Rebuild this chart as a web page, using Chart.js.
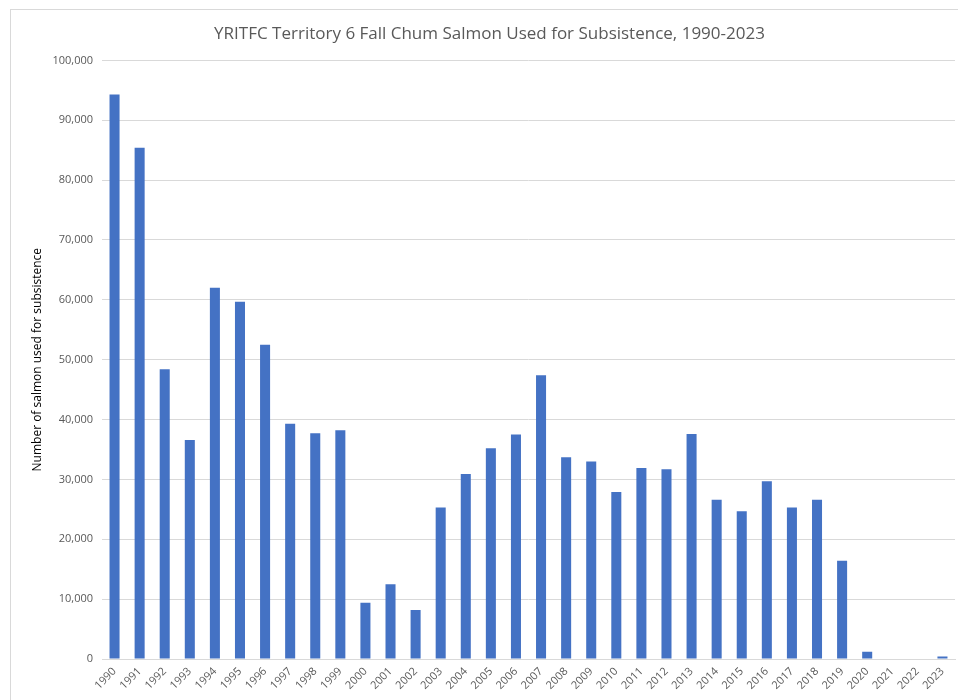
<!DOCTYPE html>
<html>
<head>
<meta charset="utf-8">
<script src="https://cdn.jsdelivr.net/npm/chart.js@4.4.1/dist/chart.umd.min.js"></script>
<style>
    html, body { margin: 0; padding: 0; background: #ffffff; }
    #wrap { position: relative; width: 958px; height: 700px; overflow: hidden; }
    #frame {
        position: absolute; left: 10px; top: 9px; width: 960px; height: 720px;
        border: 1px solid #d9d9d9; box-sizing: border-box;
    }
    #salmonChart { position: absolute; left: 0; top: 0; }
</style>
</head>
<body>
<div id="wrap">
    <div id="frame"></div>
    <canvas id="salmonChart" width="958" height="700"></canvas>
</div>
<script>
// Fall chum salmon used for subsistence, Territory 6
const years = [
    '1990', '1991', '1992', '1993', '1994', '1995', '1996', '1997', '1998', '1999',
    '2000', '2001', '2002', '2003', '2004', '2005', '2006', '2007', '2008', '2009',
    '2010', '2011', '2012', '2013', '2014', '2015', '2016', '2017', '2018', '2019',
    '2020', '2021', '2022', '2023'
];
const subsistenceCounts = [
    94300, 85400, 48400, 36600, 62000, 59700, 52500, 39300, 37700, 38200,
    9400, 12500, 8200, 25300, 30900, 35200, 37500, 47400, 33700, 33000,
    27900, 31900, 31700, 37600, 26600, 24700, 29700, 25300, 26600, 16400,
    1200, 0, 0, 400
];
const yTicks = [0, 10000, 20000, 30000, 40000, 50000, 60000, 70000, 80000, 90000, 100000];

const chartTitle = 'YRITFC Territory 6 Fall Chum Salmon Used for Subsistence, 1990-2023';
const yAxisTitle = 'Number of salmon used for subsistence';

const ctx = document.getElementById('salmonChart').getContext('2d');
const salmonChart = new Chart(ctx, {
    type: 'bar',
    data: {
        labels: years,
        datasets: [{
            label: 'Subsistence',
            data: subsistenceCounts,
            backgroundColor: '#4472c4',
            borderWidth: 0,
            barPercentage: 0.4,
            categoryPercentage: 1.0
        }]
    },
    options: {
        responsive: false,
        animation: false,
        layout: {
            // left padding nudges the title to the right; y axis width compensates
            padding: { left: 24, right: 3, top: 0, bottom: 0 }
        },
        plugins: {
            legend: { display: false },
            tooltip: { enabled: false },
            title: {
                display: true,
                text: chartTitle,
                color: '#595959',
                font: { family: 'Open Sans', size: 17, weight: 'normal' },
                padding: { top: 24, bottom: 16 }
            }
        },
        scales: {
            x: {
                grid: { display: false, drawTicks: false },
                border: { display: true, color: '#d9d9d9', width: 1 },
                ticks: {
                    color: '#595959',
                    font: { family: 'Open Sans', size: 11 },
                    minRotation: 45,
                    maxRotation: 45,
                    autoSkip: false,
                    padding: 6
                },
                afterFit: (scale) => { scale.height = 41; }
            },
            y: {
                min: 0,
                max: 100000,
                afterBuildTicks: (scale) => {
                    scale.ticks = yTicks.map(v => ({ value: v }));
                },
                grid: { color: '#d9d9d9', drawTicks: false },
                border: { display: false },
                ticks: {
                    color: '#595959',
                    font: { family: 'Open Sans', size: 11 },
                    padding: 9,
                    callback: (v) => v.toLocaleString('en-US')
                },
                title: {
                    display: true,
                    text: yAxisTitle,
                    color: '#000000',
                    font: { family: 'Open Sans', size: 12 },
                    padding: { top: 6, bottom: 0 }
                },
                afterFit: (scale) => { scale.width = 78; }
            }
        }
    }
});
</script>
</body>
</html>
